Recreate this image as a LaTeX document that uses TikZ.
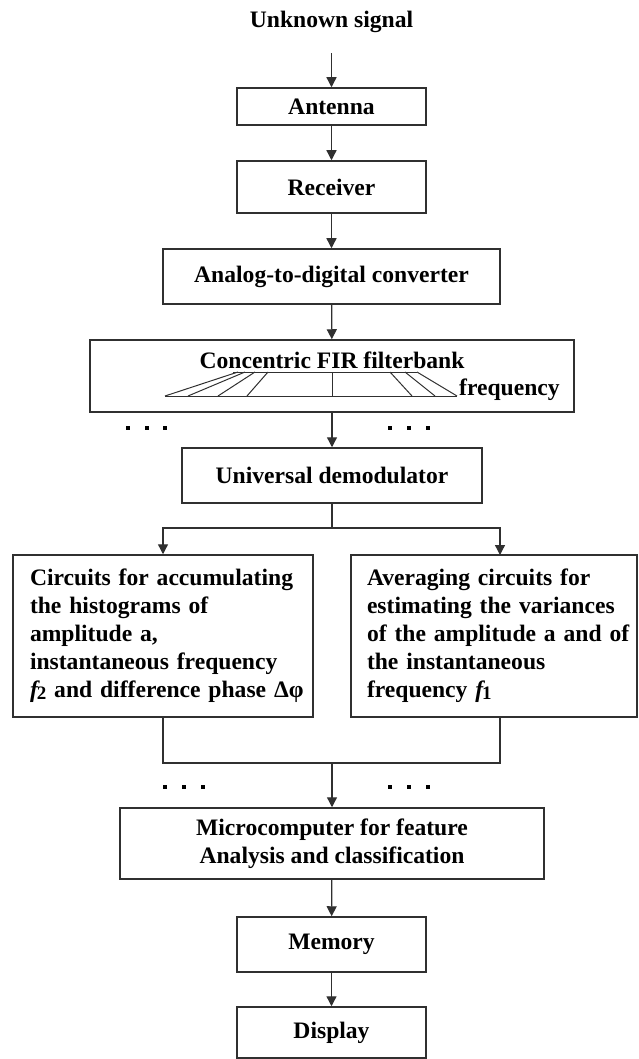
\documentclass[tikz,border=0pt]{standalone}
\usepackage{fontspec}
\setmainfont{Liberation Serif}
\usetikzlibrary{arrows.meta}
\definecolor{linec}{HTML}{303030}
\newcommand{\subdigit}[1]{\kern-1pt\raisebox{-2pt}{\fontsize{19}{19}\selectfont #1}}
\begin{document}
\begin{tikzpicture}[x=1pt, y=-1pt,
  every node/.style={font=\bfseries\fontsize{23.6}{28}\selectfont, text=black},
  box/.style={draw=linec, line width=1.5pt, inner sep=0pt, align=center},
  textbox/.style={draw=linec, line width=1.5pt, inner xsep=4pt, inner ysep=0pt, align=left, minimum height=162pt},
  arr/.style={draw=linec, line width=1.3pt, -{Triangle[length=10pt,width=10pt]}},
  wire/.style={draw=linec, line width=1.3pt},
  fan/.style={draw=linec, line width=1pt},
  dot/.style={fill=black}
]
\useasboundingbox (0,0) rectangle (639,1059);

% input label
\node (sig) at (331.5,22) {Unknown signal};

% front-end chain
\node[box, minimum width=189pt, minimum height=37pt] (ant) at (331.5,106.5) {Antenna};
\node[box, minimum width=189pt, minimum height=52pt] (rec) at (331.5,187) {Receiver};
\node[box, minimum width=337pt, minimum height=55pt] (adc) at (331.5,276.5) {Analog-to-digital converter};

% filterbank block
\node[box, minimum width=484pt, minimum height=72pt] (fb) at (332,376) {};
\node[anchor=base, inner sep=0pt] (fbt) at (332,368) {Concentric FIR filterbank};
\node[anchor=base west, inner sep=0pt] (freq) at (459,395) {frequency};

% filter responses fanning out from the centre
\draw[fan] (233,372) -- (417,372);
\draw[fan] (165,396) -- (457,396);
\draw[fan] (238,372) -- (165,396);
\draw[fan] (245,372) -- (188,396);
\draw[fan] (255,372) -- (218,396);
\draw[fan] (268,372) -- (247,396);
\draw[fan] (332,372) -- (332,396);
\draw[fan] (390,372) -- (412,396);
\draw[fan] (405,372) -- (435,396);
\draw[fan] (417,372) -- (457,396);

\node[box, minimum width=300pt, minimum height=55pt] (dem) at (332,475.5) {Universal demodulator};

% parallel analysis branches
\node[textbox, text width=292pt] (lb) at (163,636) {\leftskip=13pt Circuits for accumulating\\the histograms of\\amplitude a,\\instantaneous frequency\\{\itshape f}\subdigit{2} and difference phase Δφ\par};
\node[textbox, text width=278pt] (rb) at (494,636) {\leftskip=12pt Averaging circuits for\\estimating the variances\\of the amplitude a and of\\the instantaneous\\frequency {\itshape f}\subdigit{1}\par};

\node[box, minimum width=424pt, minimum height=71pt] (mc) at (332,843.5) {Microcomputer for feature\\Analysis and classification};
\node[box, minimum width=189pt, minimum height=55pt] (mem) at (331.5,944.5) {Memory};
\node[box, minimum width=189pt, minimum height=51pt] (disp) at (331.5,1032.5) {Display};

% branching points
\coordinate (split) at (332,528);
\coordinate (join) at (332,763);
\coordinate (rtop) at (500,555);
\coordinate (rbot) at (500,717);

% connectors
\draw[arr, shorten <=17pt] (sig) -- (ant);
\draw[arr] (ant) -- (rec);
\draw[arr] (rec) -- (adc);
\draw[arr] (adc) -- (fb);
\draw[arr] (fb.south -| dem.north) -- (dem);
\draw[wire] (dem.south) -- (split);
\draw[arr] (split) -| (lb.north);
\draw[arr] (split) -| (rtop);
\draw[wire] (lb.south) |- (join) -| (rbot);
\draw[arr] (join) -- (mc);
\draw[arr] (mc) -- (mem);
\draw[arr] (mem) -- (disp);

% ellipsis marks for further channels
\foreach \x in {128,147,165,390,409,428} \fill[dot] (\x-2,426) rectangle (\x+2,430);
\foreach \x in {165,184,203,390,409,428} \fill[dot] (\x-2,785) rectangle (\x+2,789);
\end{tikzpicture}
\end{document}
